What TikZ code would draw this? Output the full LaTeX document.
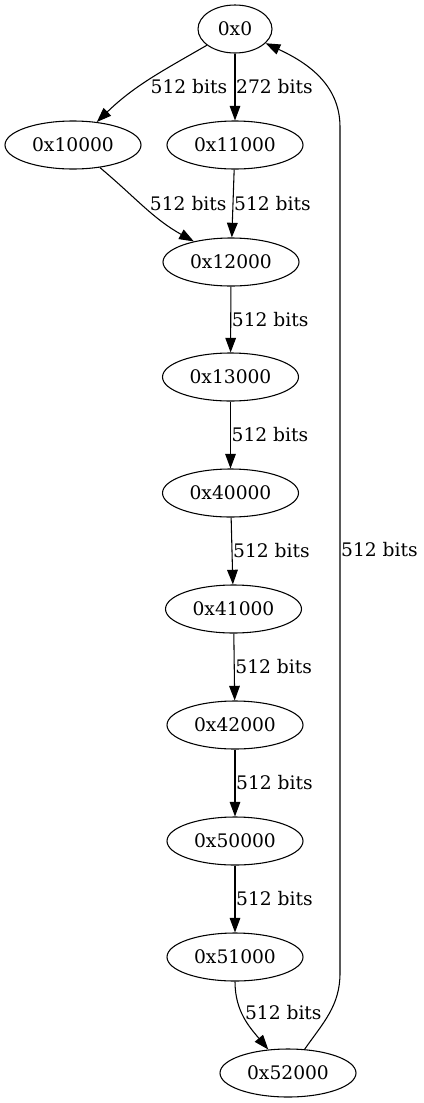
\documentclass[tikz,border=0pt]{standalone}
\usepackage{fontspec}
\setmainfont{DejaVu Serif}
\usetikzlibrary{shapes.geometric, arrows.meta}

\begin{document}
  \begin{tikzpicture}[x=0.75pt, y=0.75pt, line width=0.8pt, font=\fontsize{14pt}{16pt}\selectfont,
      >={Triangle[length=11pt, width=8pt]},
      addr/.style={ellipse, draw, minimum width=102pt, minimum height=36pt, inner sep=0pt},
      lbl/.style={inner sep=0.5pt}]
    \useasboundingbox (0,0) rectangle (424,-1103);

    \node[addr, minimum width=55.5pt] (n0) at (235,-29) {0x0};
    \node[addr] (n10000) at (73,-145) {0x10000};
    \node[addr] (n11000) at (235,-145) {0x11000};
    \node[addr] (n12000) at (231,-262) {0x12000};
    \node[addr] (n13000) at (230.5,-377) {0x13000};
    \node[addr] (n40000) at (230.5,-493) {0x40000};
    \node[addr] (n41000) at (233.5,-609) {0x41000};
    \node[addr] (n42000) at (235,-725) {0x42000};
    \node[addr] (n50000) at (235,-841) {0x50000};
    \node[addr] (n51000) at (235,-957) {0x51000};
    \node[addr] (n52000) at (288,-1073) {0x52000};
    \coordinate (b1) at (340,-973);
    \coordinate (b2) at (340,-127);

    \draw[->] (n0) edge[out=210, in=44] node[lbl, pos=0.6, right=8pt] {512 bits} (n10000);
    \draw[->] (n0) edge node[lbl, right] {272 bits} (n11000);
    \draw[->] (n10000) edge[out=-40, in=151] node[lbl, pos=0.45, right=6pt] {512 bits} (n12000);
    \draw[->] (n11000) edge node[lbl, right] {512 bits} (n12000);
    \draw[->] (n12000) edge node[lbl, right] {512 bits} (n13000);
    \draw[->] (n13000) edge node[lbl, right] {512 bits} (n40000);
    \draw[->] (n40000) edge node[lbl, right] {512 bits} (n41000);
    \draw[->] (n41000) edge node[lbl, right] {512 bits} (n42000);
    \draw[->] (n42000) edge node[lbl, right] {512 bits} (n50000);
    \draw[->] (n50000) edge node[lbl, right] {512 bits} (n51000);
    \draw[->] (n51000) edge[out=-90, in=130] node[lbl, pos=0.42, right=1.5pt] {512 bits} (n52000);
    \draw[->] (n52000) to[out=55, in=-90] (b1) -- node[lbl, right] {512 bits} (b2) to[out=90, in=-25] (n0);
  \end{tikzpicture}
\end{document}
